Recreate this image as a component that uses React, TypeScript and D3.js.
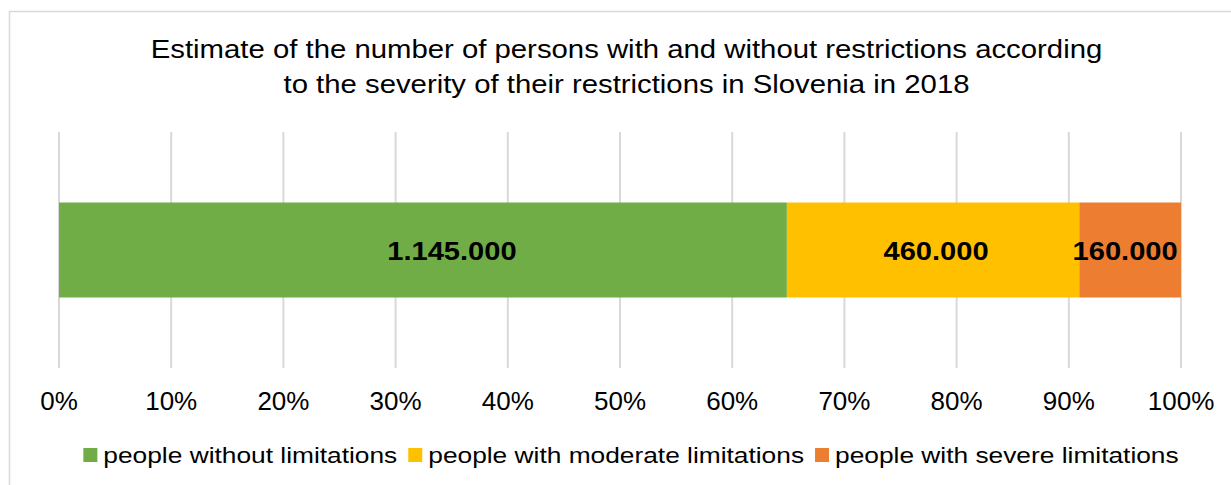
import { useEffect, useRef } from 'react';
import * as d3 from 'd3';

const titleLines = [
  'Estimate of the number of persons with and without restrictions according',
  'to the severity of their restrictions in Slovenia in 2018',
];
const categories = ['Slovenia 2018'];
const seriesNames = [
  'people without limitations',
  'people with moderate limitations',
  'people with severe limitations',
];
const seriesValues = [1145000, 460000, 160000];
const valueLabels = ['1.145.000', '460.000', '160.000'];
const seriesColors = ['#70AD47', '#FFC000', '#ED7D31'];
const tickValues = [0, 0.1, 0.2, 0.3, 0.4, 0.5, 0.6, 0.7, 0.8, 0.9, 1];

const FONT = '"Liberation Sans", Arial, Helvetica, sans-serif';
// the original's labels sit a little off the segment centres
const labelShift = [29, 3, -5];

export default function App() {
  const svgRef = useRef<SVGSVGElement | null>(null);
  const width = 1231;
  const height = 485;

  useEffect(() => {
    if (!svgRef.current) return;
    const svg = d3.select(svgRef.current);
    svg.selectAll('*').remove();

    svg
      .append('rect')
      .attr('width', width)
      .attr('height', height)
      .attr('fill', '#ffffff');

    // chart frame
    svg
      .append('rect')
      .attr('x', 9.5)
      .attr('y', 11.5)
      .attr('width', 1240)
      .attr('height', 500)
      .attr('fill', 'none')
      .attr('stroke', '#d9d9d9')
      .attr('stroke-width', 1.5);

    const x = d3.scaleLinear().domain([0, 1]).range([59, 1181]);
    const y = d3.scaleBand<string>().domain(categories).range([132, 368]).padding(0.426);

    // title
    svg
      .append('g')
      .selectAll('text')
      .data(titleLines)
      .join('text')
      .attr('transform', (_, i) => `translate(626.5,${58 + i * 35}) scale(1.15,1)`)
      .attr('text-anchor', 'middle')
      .attr('font-family', FONT)
      .attr('font-size', 25.5)
      .attr('fill', '#000')
      .text((d) => d);

    // gridlines
    svg
      .append('g')
      .selectAll('line')
      .data(tickValues)
      .join('line')
      .attr('x1', (d) => x(d))
      .attr('x2', (d) => x(d))
      .attr('y1', 132)
      .attr('y2', 368)
      .attr('stroke', '#d9d9d9')
      .attr('stroke-width', 2);

    // tick labels
    svg
      .append('g')
      .selectAll('text')
      .data(tickValues)
      .join('text')
      .attr('transform', (d) => `translate(${x(d)},409.5) scale(1.04,1)`)
      .attr('text-anchor', 'middle')
      .attr('font-family', FONT)
      .attr('font-size', 25)
      .attr('fill', '#000')
      .text((d) => d3.format('.0%')(d));

    // stacked bars (100%)
    const total = d3.sum(seriesValues);
    const starts = seriesValues.map((_, i) => d3.sum(seriesValues.slice(0, i)) / total);
    const segs = seriesValues.map((v, i) => ({
      name: seriesNames[i],
      start: starts[i],
      end: starts[i] + v / total,
      label: valueLabels[i],
      color: seriesColors[i],
      shift: labelShift[i],
    }));

    const by = y(categories[0])!;
    const barG = svg.append('g');
    barG
      .selectAll('rect')
      .data(segs)
      .join('rect')
      .attr('x', (d) => x(d.start))
      .attr('y', by)
      .attr('width', (d) => x(d.end) - x(d.start))
      .attr('height', y.bandwidth())
      .attr('fill', (d) => d.color);

    barG
      .selectAll('text')
      .data(segs)
      .join('text')
      .attr(
        'transform',
        (d) =>
          `translate(${(x(d.start) + x(d.end)) / 2 + d.shift},${by + y.bandwidth() / 2 + 9.5}) scale(1.12,1)`,
      )
      .attr('text-anchor', 'middle')
      .attr('font-family', FONT)
      .attr('font-weight', 'bold')
      .attr('font-size', 26)
      .attr('fill', '#000')
      .text((d) => d.label);

    // legend
    const sx = 1.17;
    const legend = svg.append('g');
    const items = legend.selectAll('g').data(segs).join('g');
    items
      .append('rect')
      .attr('width', 14)
      .attr('height', 14)
      .attr('y', 448)
      .attr('fill', (d) => d.color);
    items
      .append('text')
      .attr('transform', `translate(20,462.5) scale(${sx},1)`)
      .attr('font-family', FONT)
      .attr('font-size', 22.5)
      .attr('fill', '#000')
      .text((d) => d.name);

    const widths: number[] = [];
    items.each(function () {
      const t = d3.select(this).select<SVGTextElement>('text').node()!;
      widths.push(20 + t.getComputedTextLength() * sx);
    });
    const gap = 11;
    const totalW = d3.sum(widths) + gap * (widths.length - 1);
    let cx = 631 - totalW / 2;
    items.attr('transform', (_, i) => {
      const tx = cx;
      cx += widths[i] + gap;
      return `translate(${tx},0)`;
    });
  }, []);

  return (
    <svg
      ref={svgRef}
      width={width}
      height={height}
      style={{ position: 'absolute', left: 0, top: 0, display: 'block' }}
    />
  );
}
